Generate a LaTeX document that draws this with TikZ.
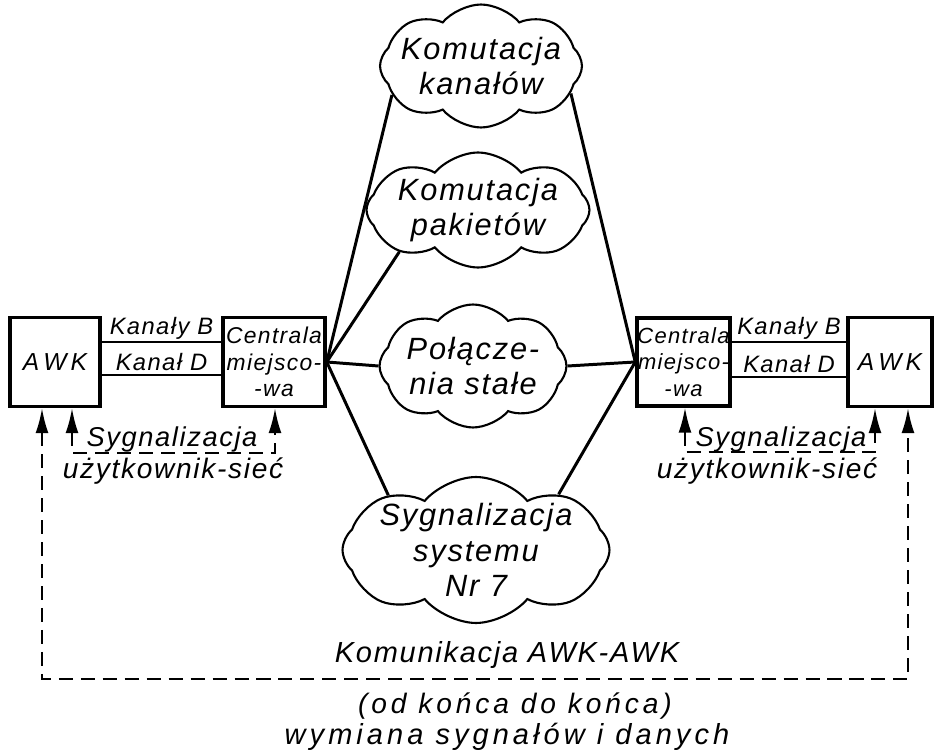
\documentclass[tikz,border=0pt]{standalone}
\usepackage{fontspec}
\setmainfont{Liberation Sans}
\newfontfamily\hand[LetterSpace=6]{Liberation Sans}
\newfontfamily\handwide[LetterSpace=14]{Liberation Sans}
\usetikzlibrary{shapes.symbols,arrows.meta}

\begin{document}
\begin{tikzpicture}
[x=0.02cm,y=-0.02cm,
every node/.style={font=\hand\itshape},
box/.style={draw,line width=2pt,inner sep=0pt,align=center},
cl/.style={cloud,draw,line width=1.2pt,cloud puffs=8,cloud puff arc=100,cloud ignores aspect,inner xsep=-38pt,inner ysep=-15pt,align=center,font=\hand\itshape\fontsize{17.5}{20}\selectfont},
link/.style={line width=1.7pt},
chan/.style={line width=0.9pt},
sig/.style={line width=1.1pt,dash pattern=on 8pt off 4.5pt,{Latex[length=5mm,width=2.6mm]}-{Latex[length=5mm,width=2.6mm]}}
]
\useasboundingbox (0,0) rectangle (938,753);

\node[box,minimum width=1.8cm,minimum height=1.78cm] (awkL) at (55,362) {\fontsize{14}{16}\selectfont A\,W\,K};
\node[box,minimum width=2.04cm,minimum height=1.78cm,font=\hand\itshape\fontsize{13}{15}\selectfont] (cenL) at (274,362) {Centrala\\miejsco-\\-wa};
\node[box,minimum width=1.86cm,minimum height=1.76cm,font=\hand\itshape\fontsize{12.5}{15}\selectfont] (cenR) at (683.5,362) {Centrala\\miejsco-\\-wa};
\node[box,minimum width=1.68cm,minimum height=1.78cm] (awkR) at (890,362) {\fontsize{14}{16}\selectfont A\,W\,K};

\node[cl,minimum width=4.04cm,minimum height=2.46cm] (kan) at (481,66) {Komutacja\\kanałów};
\node[cl,minimum width=4.46cm,minimum height=2.3cm] (pak) at (478,210) {Komutacja\\pakietów};
\node[cl,minimum width=3.74cm,minimum height=2.46cm] (pol) at (473,366) {Połącze-\\nia stałe};
\node[cl,minimum width=5.34cm,minimum height=2.92cm] (syg) at (476,550) {Sygnalizacja\\systemu\\Nr 7};

\draw[chan] ([yshift=0.4cm]awkL.east) -- ([yshift=0.4cm]cenL.west)
  node[midway,above,inner sep=1pt,font=\hand\itshape\fontsize{13.5}{16}\selectfont] {Kanały B};
\draw[chan] ([yshift=-0.26cm]awkL.east) -- ([yshift=-0.26cm]cenL.west)
  node[midway,above,inner sep=2pt,font=\hand\itshape\fontsize{13.5}{16}\selectfont] {Kanał D};
\draw[chan] ([yshift=0.4cm]cenR.east) -- ([yshift=0.4cm]awkR.west)
  node[midway,above,inner sep=1pt,font=\hand\itshape\fontsize{13.5}{16}\selectfont] {Kanały B};
\draw[chan] ([yshift=-0.3cm]cenR.east) -- ([yshift=-0.3cm]awkR.west)
  node[midway,above,inner sep=2pt,font=\hand\itshape\fontsize{13.5}{16}\selectfont] {Kanał D};

\draw[link] (cenL.east) -- (kan.198);
\draw[link] (cenL.east) -- (pak.208);
\draw[link] (cenL.east) -- (pol.west);
\draw[link] (cenL.east) -- (syg.148);
\draw[link] (cenR.west) -- (kan.343);
\draw[link] (cenR.west) -- (pol.east);
\draw[link] (cenR.west) -- (syg.34);

\coordinate (bL1) at (72,453);
\coordinate (bL2) at (275,453);
\coordinate (bR1) at (685,452);
\coordinate (bR2) at (875,452);
\coordinate (eL) at (42,679);
\coordinate (eR) at (908,679);
\draw[sig] (awkL.south -| bL1) -- (bL1) -- (bL2) -- (cenL.south -| bL2);
\draw[sig] (cenR.south -| bR1) -- (bR1) -- (bR2) -- (awkR.south -| bR2);
\draw[sig] (awkL.south -| eL) -- (eL) -- (eR) -- (awkR.south -| eR);

\node[font=\hand\itshape\fontsize{15.5}{18}\selectfont] (sygL) at (172,439) {Sygnalizacja};
\node[font=\hand\itshape\fontsize{16}{18}\selectfont] (uzL) at (173,471) {użytkownik-sieć};
\node[font=\hand\itshape\fontsize{15.5}{18}\selectfont] (sygR) at (781,439) {Sygnalizacja};
\node[font=\hand\itshape\fontsize{16}{18}\selectfont] (uzR) at (767,471) {użytkownik-sieć};

\node[font=\hand\itshape\fontsize{16.5}{19}\selectfont] (awkawk) at (507,655) {Komunikacja AWK-AWK};
\node[font=\handwide\itshape\fontsize{16}{18}\selectfont] (odk) at (515,706) {(od końca do końca)};
\node[font=\handwide\itshape\fontsize{16.5}{18}\selectfont] (wym) at (507,737) {wymiana sygnałów i danych};
\end{tikzpicture}
\end{document}
